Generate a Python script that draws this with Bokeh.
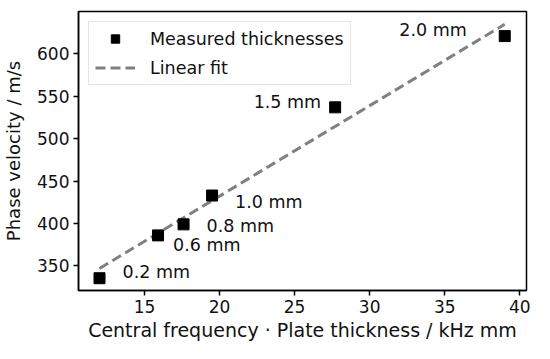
from bokeh.plotting import figure
from bokeh.models import ColumnDataSource, Range1d, Legend, LegendItem
from bokeh.embed import file_html
from bokeh.resources import INLINE
from bokeh.core.properties import value

# data
freq_thickness = [12.0, 15.9, 17.6, 19.5, 27.7, 39.0]
phase_velocity = [335.5, 386, 399, 433, 537, 621]
thickness_labels = ["0.2 mm", "0.6 mm", "0.8 mm", "1.0 mm", "1.5 mm", "2.0 mm"]
fit_x = [12.0, 39.0]
fit_y = [347, 635]
x_ticks = [15, 20, 25, 30, 35, 40]
y_ticks = [350, 400, 450, 500, 550, 600]

# label styling (pixel offsets, anchors)
label_dx = [23, 15, 23, 23, -14, -38]
label_dy = [-6, 10, 2, 6, -5, -6]
label_align = ["left", "left", "left", "left", "right", "right"]

FONT = "DejaVu Sans"
TXT = "#111111"

p = figure(width=534, height=343, min_border_left=78, min_border_right=8,
           min_border_top=11, min_border_bottom=50, output_backend="svg",
           toolbar_location=None, x_range=Range1d(10.6, 40.45), y_range=Range1d(321, 650))

fit = p.line(fit_x, fit_y, line_color="#808080", line_width=3, line_dash="10 5")
src = ColumnDataSource(dict(x=freq_thickness, y=phase_velocity, lab=thickness_labels,
                            dx=label_dx, dy=label_dy, al=label_align))
pts = p.scatter("x", "y", source=src, marker="square", size=11, fill_color="black", line_color="black")
p.text("x", "y", text="lab", source=src, x_offset="dx", y_offset="dy", text_align="al",
       text_baseline="middle", text_font=value(FONT), text_font_size="17.5px", text_color=TXT)

p.xgrid.visible = False
p.ygrid.visible = False
p.outline_line_color = "black"
p.outline_line_width = 1.5

for ax in (p.xaxis[0], p.yaxis[0]):
    ax.axis_line_width = 1.5
    ax.axis_line_color = "black"
    ax.major_tick_line_color = "black"
    ax.major_tick_line_width = 1.5
    ax.major_tick_out = 5
    ax.major_tick_in = 0
    ax.minor_tick_line_color = None
    ax.major_label_standoff = 4
    ax.major_label_text_font = FONT
    ax.major_label_text_font_size = "17px"
    ax.major_label_text_color = TXT
    ax.axis_label_text_font = FONT
    ax.axis_label_text_font_style = "normal"
    ax.axis_label_text_color = TXT

p.xaxis[0].ticker = x_ticks
p.yaxis[0].ticker = y_ticks
p.xaxis[0].axis_label = "Central frequency · Plate thickness / kHz mm"
p.yaxis[0].axis_label = "Phase velocity / m/s"
p.xaxis[0].axis_label_text_font_size = "19px"
p.yaxis[0].axis_label_text_font_size = "18px"
p.xaxis[0].axis_label_standoff = 3
p.yaxis[0].axis_label_standoff = 10

legend = Legend(items=[LegendItem(label="Measured thicknesses", renderers=[pts]),
                       LegendItem(label="Linear fit", renderers=[fit])],
                location="top_left")
legend.label_text_font = FONT
legend.label_text_font_size = "17.5px"
legend.label_text_color = TXT
legend.border_line_color = "#cccccc"
legend.border_line_width = 1
legend.glyph_width = 40
legend.glyph_height = 21
legend.label_height = 21
legend.label_standoff = 15
legend.padding = 6
legend.spacing = 8
legend.margin = 10
p.add_layout(legend)

open("out.html", "w").write(file_html(p, INLINE))
